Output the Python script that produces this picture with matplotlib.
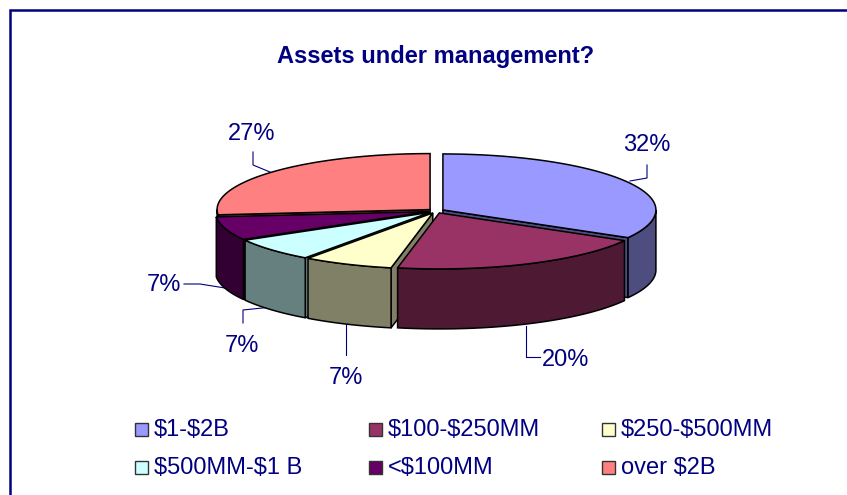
import numpy as np
import matplotlib
matplotlib.use('Agg')
import matplotlib.pyplot as plt
from matplotlib.patches import Polygon, Rectangle

categories = [r'\$1-\$2B', r'\$100-\$250MM', r'\$250-\$500MM', r'\$500MM-\$1 B', r'<\$100MM', r'over \$2B']
values = [32, 20, 7, 7, 7, 27]
colors = ['#9999FF', '#993366', '#FFFFCC', '#CCFFFF', '#660066', '#FF8080']
wall_colors = ['#4D4D80', '#4D1933', '#808066', '#668080', '#330033', '#804040']

NAVY = '#000080'
CX, CY = 436, 211
RX, RY = 213, 56
DEPTH = 60
EXPLODE = 8

plt.rcParams['font.family'] = ['Liberation Sans', 'DejaVu Sans']

fig = plt.figure(figsize=(8.47, 4.95), dpi=100)
ax = fig.add_axes([0, 0, 1, 1])
ax.set_xlim(0, 847)
ax.set_ylim(495, 0)
ax.axis('off')


def skew(t):
    # the original 3d view squeezes the angles a little, t in degrees clockwise from top
    return t + 6 * np.sin(np.radians(t / 2)) * np.cos(np.radians(t / 4))


def rim(t, cx, cy):
    r = np.radians(t)
    return np.column_stack([cx + RX * np.sin(r), cy - RY * np.cos(r)])


def draw_slice(t0, t1, color, wall):
    mid = np.radians((t0 + t1) / 2)
    cx = CX + EXPLODE * np.sin(mid)
    cy = CY - EXPLODE * RY / RX * np.cos(mid)
    ts = np.linspace(t0, t1, 80)
    top = rim(ts, cx, cy)
    down = np.array([0, DEPTH])
    apex = np.array([cx, cy])

    # cut faces, only the ones turned to the viewer
    cuts = []
    if np.sin(np.radians(t0)) < -1e-6:
        cuts.append(t0)
    if np.sin(np.radians(t1)) > 1e-6:
        cuts.append(t1)
    for t in cuts:
        p = rim(np.array([t]), cx, cy)[0]
        ax.add_patch(Polygon([apex, p, p + down, apex + down], fc=wall, ec='black', lw=1.1, zorder=z[0]))
        z[0] += 1

    # outer wall, only the part facing the viewer
    front = np.linspace(max(t0, 90), min(t1, 270), 80)
    if front[-1] > front[0]:
        upper = rim(front, cx, cy)
        ax.add_patch(Polygon(np.vstack([upper, (upper + down)[::-1]]), fc=wall, ec='black', lw=1.1, zorder=z[0]))
        z[0] += 1

    ax.add_patch(Polygon(np.vstack([apex, top]), fc=color, ec='black', lw=1.1, zorder=z[0]))
    z[0] += 1


z = [2]
edges = skew(np.cumsum([0] + values) / sum(values) * 360.0)
mids = np.radians((edges[:-1] + edges[1:]) / 2)
# back slices first, the big front right one goes last
for i in np.argsort(-np.cos(mids) + 0.1 * np.sin(mids)):
    draw_slice(edges[i], edges[i + 1], colors[i], wall_colors[i])

# frame, only top and left are in the picture
ax.plot([9.5, 9.5, 847], [495, 9.5, 9.5], color=NAVY, lw=1.8, solid_joinstyle='miter', zorder=1)

ax.text(435.5, 56, 'Assets under management?', color=NAVY, fontsize=17, fontweight='bold',
        ha='center', va='center')

# leader lines and pct labels
leaders = [
    ([630, 647, 647], [181, 178, 165]),
    ([526, 526, 540], [326, 357, 357]),
    ([346, 346], [323, 355]),
    ([272, 243, 243], [307, 310, 323]),
    ([225, 200, 184], [288, 284, 284]),
    ([270, 253, 253], [172, 165, 152]),
]
label_pos = [(647, 145), (566, 360), (346, 378), (242, 346), (164, 285), (252, 134)]
for (xs, ys), (lx, ly), v in zip(leaders, label_pos, values):
    ax.plot(xs, ys, color=NAVY, lw=0.8, zorder=1)
    ax.text(lx, ly, f'{v}%', color=NAVY, fontsize=17, ha='center', va='center')

# legend
legend_x = [135, 369, 602]
legend_y = [429, 467]
for i, (name, c) in enumerate(zip(categories, colors)):
    x = legend_x[i % 3]
    y = legend_y[i // 3]
    ax.add_patch(Rectangle((x, y - 6.5), 13, 13, fc=c, ec='#333333', lw=1.0))
    ax.text(x + 19, y + 1, name, color=NAVY, fontsize=17, ha='left', va='center')

fig.savefig('out.png', dpi=100)
